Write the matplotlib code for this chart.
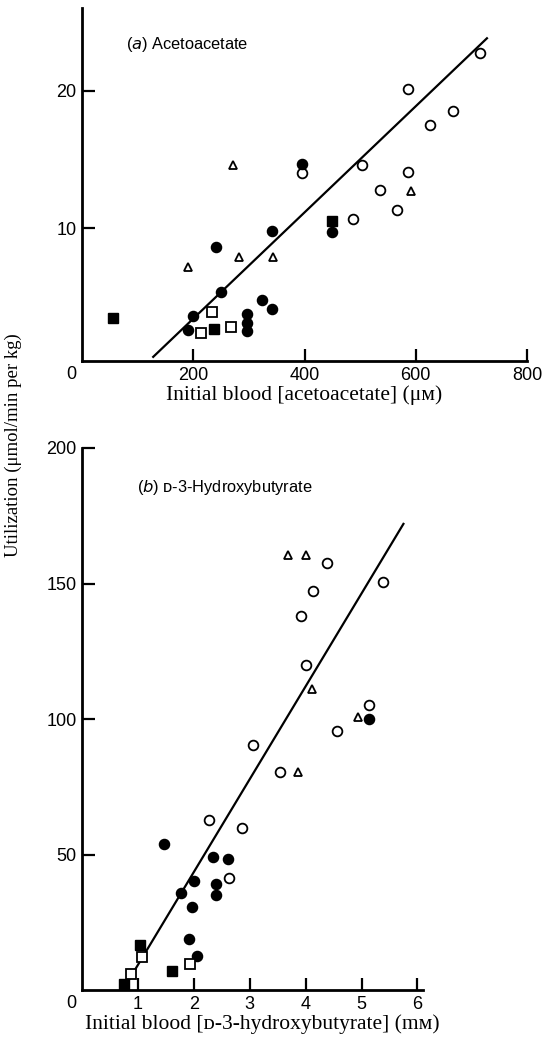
import matplotlib
matplotlib.use("Agg")
import matplotlib.pyplot as plt
import numpy as np

# ---- data ----
# (a) acetoacetate, x in uM, y in umol/min per kg
aa_open_circle_x = [715, 586, 667, 625, 396, 503, 586, 535, 566, 488]
aa_open_circle_y = [22.7, 20.1, 18.5, 17.5, 14.0, 14.6, 14.1, 12.8, 11.3, 10.7]
aa_filled_circle_x = [396, 450, 342, 240, 250, 324, 342, 200, 296, 296, 296, 191]
aa_filled_circle_y = [14.7, 9.7, 9.8, 8.6, 5.4, 4.8, 4.1, 3.6, 3.8, 3.1, 2.5, 2.6]
aa_triangle_x = [272, 591, 283, 344, 191]
aa_triangle_y = [14.6, 12.7, 7.9, 7.9, 7.2]
aa_filled_square_x = [450, 56, 238]
aa_filled_square_y = [10.5, 3.5, 2.7]
aa_open_square_x = [234, 214, 268]
aa_open_square_y = [3.9, 2.4, 2.8]
aa_fit_x = [128, 728]
aa_fit_y = [0.65, 23.8]

# (b) D-3-hydroxybutyrate, x in mM
hb_open_circle_x = [4.39, 4.14, 5.39, 3.92, 4.01, 5.14, 4.57, 3.05, 3.55, 2.28, 2.87, 2.63]
hb_open_circle_y = [157.4, 147.4, 150.7, 137.9, 119.9, 105, 95.6, 90.4, 80.5, 62.8, 59.6, 41.2]
hb_filled_circle_x = [5.14, 1.47, 2.35, 2.62, 2.01, 2.40, 1.77, 2.40, 1.97, 1.91, 2.06]
hb_filled_circle_y = [100, 53.7, 49, 48.2, 40.4, 39, 35.7, 35, 30.5, 18.8, 12.4]
hb_triangle_x = [3.69, 4.01, 4.12, 4.93, 3.87]
hb_triangle_y = [160.7, 160.7, 111, 100.8, 80.5]
hb_filled_square_x = [1.04, 1.61, 0.75]
hb_filled_square_y = [16.5, 7.0, 2.2]
hb_open_square_x = [1.08, 1.94, 0.88]
hb_open_square_y = [12.0, 9.6, 6.0]
hb_fit_x = [0.73, 5.75]
hb_fit_y = [0, 172]

serif = ["Liberation Serif", "DejaVu Serif", "DejaVu Sans"]
sans = ["Liberation Sans", "DejaVu Sans"]
tick_fs = 13

fig = plt.figure(figsize=(5.53, 10.37), dpi=100)
ax1 = fig.add_axes([82/553, 1 - 361/1037, 445/553, 353/1037])
ax2 = fig.add_axes([82/553, 1 - 990/1037, 341/553, 542/1037])


def draw(ax, oc, fc, tr, fs, os_, fit):
    ax.plot(fit[0], fit[1], color="black", lw=1.6, zorder=1)
    ax.plot(oc[0], oc[1], "o", ms=7, mfc="white", mec="black", mew=1.3, ls="none", zorder=3)
    ax.plot(fc[0], fc[1], "o", ms=7.3, mfc="black", mec="black", ls="none", zorder=3)
    ax.plot(tr[0], tr[1], "^", ms=5.5, mfc="white", mec="black", mew=1.3, ls="none", zorder=3)
    ax.plot(fs[0], fs[1], "s", ms=6.5, mfc="black", mec="black", ls="none", zorder=3)
    ax.plot(os_[0], os_[1], "s", ms=6.5, mfc="white", mec="black", mew=1.3, ls="none", zorder=3)
    for s in ["top", "right"]:
        ax.spines[s].set_visible(False)
    for s in ["left", "bottom"]:
        ax.spines[s].set_linewidth(2)
    ax.tick_params(direction="in", length=9, width=1.6, labelsize=tick_fs, pad=4)
    # shared origin label, set a little left of the corner
    ax.annotate("0", xy=(0, 0), xycoords="axes fraction", xytext=(-8, -9.5),
                textcoords="offset points", ha="center", va="center",
                fontsize=tick_fs, family=sans)


draw(ax1,
     (aa_open_circle_x, aa_open_circle_y),
     (aa_filled_circle_x, aa_filled_circle_y),
     (aa_triangle_x, aa_triangle_y),
     (aa_filled_square_x, aa_filled_square_y),
     (aa_open_square_x, aa_open_square_y),
     (aa_fit_x, aa_fit_y))
ax1.set_xlim(0, 800)
ax1.set_ylim(0.35, 26)
ax1.set_xticks([200, 400, 600, 800])
ax1.set_yticks([10, 20])
for lab in ax1.get_xticklabels() + ax1.get_yticklabels():
    lab.set_family(sans)
ax1.set_xlabel("Initial blood [acetoacetate] (μᴍ)", fontsize=15.5, family=serif, labelpad=1)
ax1.text(0.1, 0.885, r"($\mathit{a}$) Acetoacetate", transform=ax1.transAxes,
         fontsize=11.8, family=sans)

draw(ax2,
     (hb_open_circle_x, hb_open_circle_y),
     (hb_filled_circle_x, hb_filled_circle_y),
     (hb_triangle_x, hb_triangle_y),
     (hb_filled_square_x, hb_filled_square_y),
     (hb_open_square_x, hb_open_square_y),
     (hb_fit_x, hb_fit_y))
ax2.set_xlim(0, 6.1)
ax2.set_ylim(0, 200)
ax2.set_xticks([1, 2, 3, 4, 5, 6])
ax2.set_yticks([50, 100, 150, 200])
for lab in ax2.get_xticklabels() + ax2.get_yticklabels():
    lab.set_family(sans)
ax2.set_xlabel("Initial blood [ᴅ-3-hydroxybutyrate] (mᴍ)", fontsize=15.5, family=serif, labelpad=1)
ax2.xaxis.set_label_coords(0.53, -0.045)
ax2.text(0.16, 0.918, r"($\mathit{b}$) ᴅ-3-Hydroxybutyrate", transform=ax2.transAxes,
         fontsize=11.8, family=sans)

fig.text(0.024, 0.571, "Utilization (μmol/min per kg)", rotation=90,
         ha="center", va="center", fontsize=13.5, family=serif)

fig.savefig("out.png", dpi=100)
